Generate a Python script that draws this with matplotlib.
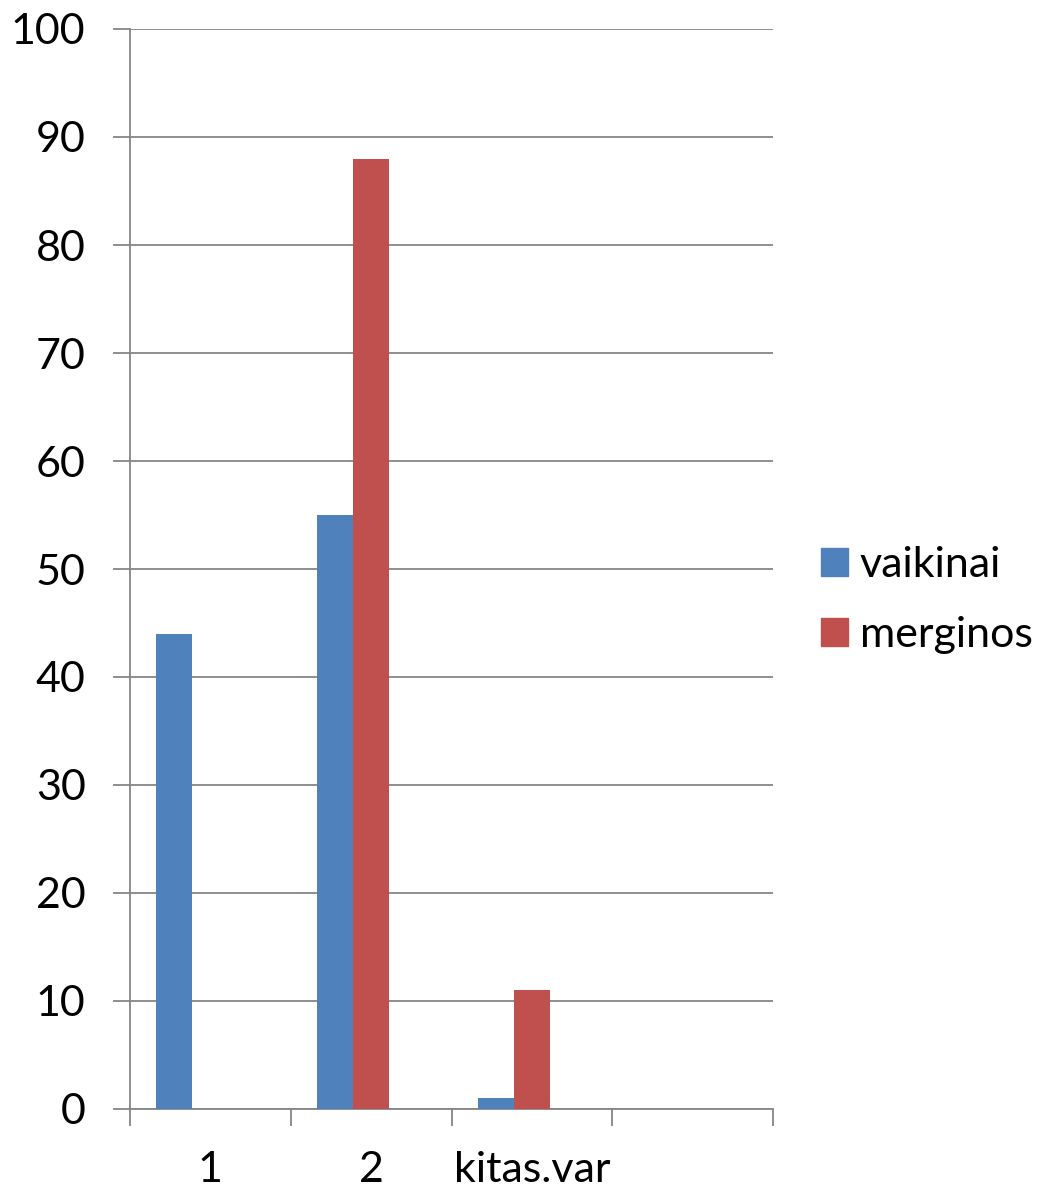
import numpy as np
import matplotlib
matplotlib.use("Agg")
import matplotlib.pyplot as plt
from matplotlib.patches import Patch

# data
categories = ["1", "2", "kitas.var", ""]
vaikinai = [44, 55, 1, 0]
merginos = [0, 88, 11, 0]
series_names = ["vaikinai", "merginos"]

blue = "#4F81BD"
red = "#C0504D"
grid_col = "#868686"

plt.rcParams['font.family'] = ['Lato', 'DejaVu Sans']

fig = plt.figure(figsize=(10.48, 11.89), dpi=100)
ax = fig.add_axes([130 / 1048, 1 - 1109 / 1189, 643 / 1048, 1080 / 1189])

x = np.arange(len(categories))
w = 36 / 160.75
# excel-style group of three slots, third one empty
ax.bar(x - w, vaikinai, width=w, color=blue, label=series_names[0], zorder=3)
ax.bar(x, merginos, width=w, color=red, label=series_names[1], zorder=3)

ax.set_xlim(-0.5, len(categories) - 0.5)
ax.set_ylim(0, 100)
ax.set_yticks(np.arange(0, 101, 10))
ax.yaxis.grid(True, color=grid_col, lw=1.3, zorder=0)
ax.set_axisbelow(True)

# category labels in the middle, tick marks at the boundaries
ax.set_xticks(x)
ax.set_xticklabels(categories)
ax.set_xticks(np.arange(-0.5, len(categories), 1), minor=True)
ax.tick_params(axis='x', which='major', length=0, pad=30, labelsize=31)
ax.tick_params(axis='x', which='minor', length=12, width=1.3, color=grid_col, direction='out')
ax.tick_params(axis='y', length=12, width=1.3, color=grid_col, labelsize=31, pad=20)

for s in ['top', 'right']:
    ax.spines[s].set_visible(False)
for s in ['left', 'bottom']:
    ax.spines[s].set_color(grid_col)
    ax.spines[s].set_linewidth(1.3)

handles = [Patch(color=blue), Patch(color=red)]
fig.legend(handles, series_names, loc='center left',
           bbox_to_anchor=(782 / 1048, 1 - 600 / 1189), frameon=False,
           fontsize=31, handlelength=0.63, handleheight=0.63,
           handletextpad=0.28, labelspacing=0.75)

fig.savefig("out.png", dpi=100)
